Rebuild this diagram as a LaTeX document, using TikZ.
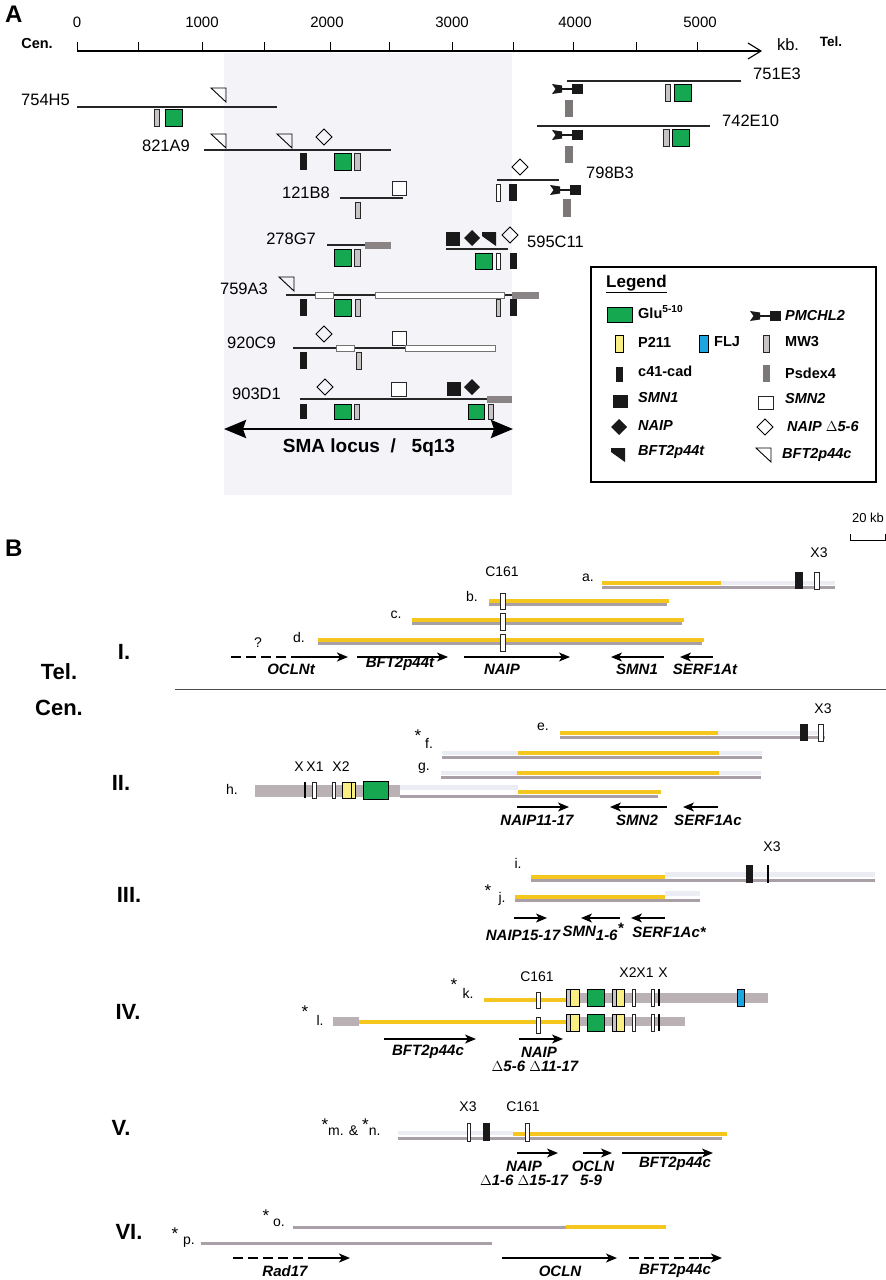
\documentclass[tikz,border=0pt]{standalone}
\usepackage{fontspec}
\setmainfont{Liberation Sans}
\usetikzlibrary{arrows.meta}
\definecolor{glu}{RGB}{22,168,80}
\definecolor{mwg}{RGB}{200,196,198}
\definecolor{psd}{RGB}{125,120,120}
\definecolor{shd}{RGB}{243,243,248}
\definecolor{gold}{RGB}{245,198,30}
\definecolor{gline}{RGB}{168,160,166}
\definecolor{gthick}{RGB}{185,177,180}
\definecolor{pyel}{RGB}{248,238,130}
\definecolor{flj}{RGB}{28,166,224}
\definecolor{faint}{RGB}{236,236,245}
\definecolor{extg}{RGB}{138,132,132}
\newcommand{\myTriO}[2]{\draw[line width=0.9pt, line join=miter] (#1,#2) -- ++(15,0) -- ++(0,14) -- cycle;}
\newcommand{\myTriF}[2]{\fill[black!90] (#1,#2) -- ++(14,0) -- ++(0,14) -- (#1,#2+4) -- cycle;}
\newcommand{\myDiaO}[2]{\draw[line width=0.9pt] (#1-8,#2) -- (#1,#2-8) -- (#1+8,#2) -- (#1,#2+8) -- cycle;}
\newcommand{\myDiaF}[2]{\fill[black!90] (#1-8,#2) -- (#1,#2-8) -- (#1+8,#2) -- (#1,#2+8) -- cycle;}
\newcommand{\myPM}[2]{%
  \fill[black!90] (#1,#2) -- (#1+10,#2+1.5) -- (#1+10,#2+8.5) -- (#1,#2+10) -- (#1+3.5,#2+5) -- cycle;
  \draw[line width=2pt,black!90] (#1+9,#2+5) -- (#1+21,#2+5);
  \fill[black!90] (#1+20,#2) rectangle (#1+31,#2+10);}
\newcommand{\myGY}[4]{%
  \fill[mwg] (#1,#2) rectangle (#1+4,#4);
  \fill[pyel] (#1+4,#2) rectangle (#3,#4);
  \draw[line width=0.7pt] (#1,#2) rectangle (#3,#4);
  \draw[line width=0.7pt] (#1+4,#2) -- (#1+4,#4);}
\begin{document}
\begin{tikzpicture}[x=1pt,y=-1pt,
 every node/.style={inner sep=0pt},
 clabel/.style={font=\fontsize{16.5}{18}\selectfont},
 tlabel/.style={font=\fontsize{15}{17}\selectfont},
 small/.style={font=\fontsize{14}{16}\selectfont},
 star/.style={font=\fontsize{17}{18}\selectfont},
 gname/.style={font=\bfseries\itshape\fontsize{15}{17}\selectfont},
 legt/.style={font=\bfseries\fontsize{14.5}{16}\selectfont, anchor=west},
 legti/.style={font=\bfseries\itshape\fontsize{14.5}{16}\selectfont, anchor=west},
 rnum/.style={font=\bfseries\fontsize{22}{24}\selectfont},
 clone/.style={line width=2.6pt, draw=black!85},
 gbox/.style={fill=glu, draw=black, line width=0.8pt},
 mwbox/.style={fill=mwg, draw=black!85, line width=0.7pt},
 wbox/.style={fill=white, draw=black!85, line width=0.8pt},
 wbar/.style={fill=white, draw=black!55, line width=0.7pt},
 kbox/.style={fill=black!90},
 pbox/.style={fill=psd},
 ebar/.style={fill=extg},
 yel/.style={draw=gold, line width=4pt},
 gry/.style={draw=gline, line width=3pt},
 fnt/.style={fill=faint},
 thickg/.style={fill=gthick},
 garr/.style={line width=1.2pt, -{Stealth[length=11pt,width=9pt,inset=3pt]}},
 dgen/.style={line width=2.4pt, dash pattern=on 10pt off 5pt},
]
\useasboundingbox (0,0) rectangle (886,1280);
\fill[white] (0,0) rectangle (886,1280);

%%%%%%%%%%%%%%%%%%%% PANEL A
\fill[shd] (224,53) rectangle (512,495);
\node[font=\bfseries\fontsize{24}{26}\selectfont, anchor=west] (pA) at (5,14) {A};
\node[tlabel] (t0) at (77,22) {0};
\node[tlabel] (t1) at (202,22) {1000};
\node[tlabel] (t2) at (327,22) {2000};
\node[tlabel] (t3) at (452,22) {3000};
\node[tlabel] (t4) at (575,22) {4000};
\node[tlabel] (t5) at (700,22) {5000};
\node[font=\bfseries\fontsize{14.5}{16}\selectfont] (cenA) at (37,44) {Cen.};
\node[font=\fontsize{16.5}{18}\selectfont] (kbA) at (788,45) {kb.};
\node[font=\bfseries\fontsize{13.5}{16}\selectfont] (telA) at (831,42) {Tel.};
\coordinate (ax0) at (77,51);
\coordinate (ax1) at (762,51);
\draw[line width=1.1pt, -{Straight Barb[length=13pt,width=16pt]}] (ax0) -- (ax1);
\foreach \t in {77,138,202,264,330,389,452,513,573,636,697} \draw[line width=0.9pt] (\t,42) -- (\t,51);

% 754H5
\node[clabel, anchor=east] (c754) at (70,100) {754H5};
\draw[clone] (77,107) -- (277,107);
\myTriO{211}{88}
\draw[mwbox] (154,109) rectangle (159,126);
\draw[gbox] (165,109) rectangle (182,126);
% 821A9
\node[clabel, anchor=east] (c821) at (190,146) {821A9};
\draw[clone] (204,150) -- (391,150);
\myTriO{211}{134}
\myTriO{277}{134}
\myDiaO{324}{137}
\fill[kbox] (300,153) rectangle (307,170);
\draw[gbox] (334,153) rectangle (351,170);
\draw[mwbox] (354,153) rectangle (360,170);
% 751E3
\node[clabel, anchor=west] (c751) at (753,74) {751E3};
\draw[clone] (567,81) -- (741,81);
\myPM{552}{84}
\fill[pbox] (565,100) rectangle (573,117);
\draw[mwbox] (665,84) rectangle (670,101);
\draw[gbox] (674,84) rectangle (691,101);
% 742E10
\node[clabel, anchor=west] (c742) at (722,121) {742E10};
\draw[clone] (537,126) -- (710,126);
\myPM{552}{130}
\fill[pbox] (565,146) rectangle (573,163);
\draw[mwbox] (663,129) rectangle (669,146);
\draw[gbox] (672,129) rectangle (689,146);
% 798B3
\node[clabel, anchor=west] (c798) at (586,173) {798B3};
\draw[clone] (497,180) -- (559,180);
\myDiaO{520}{167}
\draw[wbox] (496,184) rectangle (500,201);
\fill[kbox] (509,184) rectangle (517,201);
\myPM{550}{185}
\fill[pbox] (563,199) rectangle (571,217);
% 121B8
\node[clabel, anchor=east] (c121) at (330,193) {121B8};
\draw[clone] (340,198) -- (403,198);
\draw[wbox] (392,181) rectangle (406,195);
\draw[mwbox] (355,202) rectangle (360,218);
% 278G7
\node[clabel, anchor=east] (c278) at (316,239) {278G7};
\draw[clone] (327,245) -- (365,245);
\fill[ebar] (365,242) rectangle (391,249);
\draw[gbox] (334,249) rectangle (351,266);
\draw[mwbox] (354,249) rectangle (360,266);
% 595C11
\node[clabel, anchor=west] (c595) at (527,242) {595C11};
\draw[clone] (446,249) -- (508,249);
\fill[kbox] (446,232) rectangle (460,246);
\myDiaF{472}{238}
\myTriF{482}{232}
\myDiaO{510}{235}
\draw[gbox] (475,253) rectangle (492,269);
\draw[wbox] (496,253) rectangle (500,269);
\fill[kbox] (510,253) rectangle (517,269);
% 759A3
\node[clabel, anchor=east] (c759) at (268,289) {759A3};
\myTriO{279}{277}
\draw[clone] (286,295) -- (512,295);
\draw[wbar] (315,292.5) rectangle (333,298);
\draw[wbar] (375,292) rectangle (504,298.5);
\fill[ebar] (512,292) rectangle (539,298.5);
\fill[kbox] (300,299) rectangle (307,316);
\draw[gbox] (334,299) rectangle (351,316);
\draw[mwbox] (355,299) rectangle (360,316);
\draw[mwbox] (496,299) rectangle (500,316);
\fill[kbox] (510,299) rectangle (517,316);
% 920C9
\node[clabel, anchor=east] (c920) at (276,343) {920C9};
\myDiaO{324}{334}
\draw[wbox] (392,331) rectangle (406,345);
\draw[clone] (293,348) -- (405,348);
\draw[wbar] (336,345.5) rectangle (354,351);
\draw[wbar] (405,345) rectangle (495,351.5);
\fill[kbox] (300,352) rectangle (307,369);
\draw[mwbox] (356,352) rectangle (361,369);
% 903D1
\node[clabel, anchor=east] (c903) at (281,394) {903D1};
\myDiaO{325}{387}
\draw[wbox] (391,382) rectangle (406,396);
\fill[kbox] (447,382) rectangle (461,396);
\myDiaF{472}{387}
\draw[clone] (300,399) -- (487,399);
\fill[ebar] (487,396) rectangle (512,403);
\fill[kbox] (300,404) rectangle (307,419);
\draw[gbox] (334,404) rectangle (351,419);
\draw[mwbox] (354,404) rectangle (359,419);
\draw[gbox] (468,404) rectangle (484,419);
\draw[mwbox] (488,404) rectangle (493,419);
% SMA locus
\coordinate (sma0) at (224,429);
\coordinate (sma1) at (513,429);
\draw[line width=2.8pt, {Stealth[length=22pt,width=18pt,inset=3pt]}-{Stealth[length=22pt,width=18pt,inset=3pt]}] (sma0) -- (sma1);
\node[font=\bfseries\fontsize{19}{21}\selectfont] (smatxt) at (369,448) {SMA locus~~/~~~5q13};

% Legend
\draw[line width=1.6pt] (591,267) rectangle (876,482);
\node[font=\bfseries\fontsize{17}{19}\selectfont, anchor=west] (legT) at (606,284) {\underline{Legend}};
\draw[gbox] (607,307) rectangle (632,322);
\node[legt] (lglu) at (638,312) {Glu\textsuperscript{5-10}};
\myPM{750}{311}
\node[legti] (lpm) at (785,316) {PMCHL2};
\draw[fill=pyel, draw=black, line width=0.7pt] (615,335) rectangle (623,352);
\node[legt] (lp211) at (638,342) {P211};
\draw[fill=flj, draw=black, line width=0.7pt] (699,335) rectangle (708,352);
\node[legt] (lflj) at (714,342) {FLJ};
\draw[mwbox] (763,335) rectangle (769,352);
\node[legt] (lmw) at (785,342) {MW3};
\fill[kbox] (616,367) rectangle (623,382);
\node[legt] (lc41) at (638,371) {c41-cad};
\fill[pbox] (763,365) rectangle (770,382);
\node[legt] (lpsd) at (785,373) {Psdex4};
\fill[kbox] (613,395) rectangle (628,408);
\node[legti] (lsmn1) at (638,398) {SMN1};
\draw[wbox] (758,396) rectangle (773,409);
\node[legti] (lsmn2) at (785,399) {SMN2};
\myDiaF{619}{427}
\node[legti] (lnaip) at (638,426) {NAIP};
\myDiaO{765}{427}
\node[legti] (lnaipd) at (787,427) {NAIP $\Delta$5-6};
\myTriF{611}{448}
\node[legti] (lbftt) at (638,452) {BFT2p44t};
\myTriO{756}{448}
\node[legti] (lbftc) at (782,455) {BFT2p44c};

%%%%%%%%%%%%%%%%%%%% PANEL B
\node[font=\bfseries\fontsize{24}{26}\selectfont, anchor=west] (pB) at (5,548) {B};
\node[font=\fontsize{13}{15}\selectfont] (kb20) at (868,518) {20 kb};
\draw[line width=0.9pt] (850,534) -- (850,540) -- (885,540) -- (885,534);

\node[rnum] (r1) at (124,652) {I.};
\node[rnum] (telB) at (59,672) {Tel.};
\node[rnum] (cenB) at (59,708) {Cen.};
\draw[line width=0.8pt, black!70] (175,689) -- (886,689);

% Row I
\node[small] (x3a) at (819,553) {X3};
\node[small] (c161a) at (502,572) {C161};
\node[small] (la) at (588,578) {a.};
\fill[fnt] (721,581) rectangle (835,585);
\draw[gry] (602,587) -- (835,587);
\draw[yel] (602,583) -- (721,583);
\fill[kbox] (795,572) rectangle (803,589);
\draw[wbox] (814,572) rectangle (819,589);
\node[small] (lb) at (472,596) {b.};
\draw[gry] (489,604) -- (667,604);
\draw[yel] (489,601) -- (669,601);
\draw[wbox] (500,593) rectangle (505,609);
\node[small] (lc) at (396,615) {c.};
\draw[gry] (412,623) -- (682,623);
\draw[yel] (412,620) -- (684,620);
\draw[wbox] (500,613) rectangle (505,630);
\node[small] (ld) at (299,637) {d.};
\draw[gry] (318,643) -- (702,643);
\draw[yel] (318,640) -- (704,640);
\draw[wbox] (500,634) rectangle (505,651);
\node[small] (qm) at (258,643) {?};
\draw[dgen] (231,657) -- (318,657);
\draw[garr, line width=2.2pt] (300,657) -- (348,657);
\draw[garr] (357,657) -- (448,657);
\draw[garr] (464,657) -- (570,657);
\draw[garr] (664,657) -- (611,657);
\draw[garr] (713,657) -- (680,657);
\node[gname] (gOCLNt) at (291,669) {OCLNt};
\node[gname] (gBFTt) at (400,664) {BFT2p44t};
\node[gname] (gNAIP1) at (502,669) {NAIP};
\node[gname] (gSMN1) at (637,669) {SMN1};
\node[gname] (gSERFt) at (705,669) {SERF1At};

% Row II
\node[rnum] (r2) at (121,783) {II.};
\node[small] (x3e) at (823,709) {X3};
\node[small] (le) at (543,727) {e.};
\fill[fnt] (718,731) rectangle (825,735);
\draw[gry] (560,737) -- (825,737);
\draw[yel] (560,733) -- (718,733);
\fill[kbox] (800,724) rectangle (808,741);
\draw[wbox] (818,724) rectangle (823,741);
\node[star] (sf) at (418,736) {*};
\node[small] (lf) at (429,743) {f.};
\fill[fnt] (442,751) rectangle (518,755);
\fill[fnt] (719,751) rectangle (762,755);
\draw[gry] (442,757) -- (762,757);
\draw[yel] (518,753) -- (719,753);
\node[small] (lg) at (424,768) {g.};
\fill[fnt] (441,771) rectangle (517,775);
\fill[fnt] (719,771) rectangle (761,775);
\draw[gry] (441,777) -- (761,777);
\draw[yel] (517,773) -- (719,773);
\node[small] (lh) at (232,789) {h.};
\node[small] (xh0) at (299,767) {X};
\node[small] (xh1) at (315,767) {X1};
\node[small] (xh2) at (341,767) {X2};
\fill[thickg] (255,785) rectangle (400,797);
\fill[fnt] (400,785) rectangle (518,790);
\draw[gry] (400,796) -- (658,796);
\draw[yel] (518,792) -- (661,792);
\draw[line width=1.2pt] (305,782) -- (305,798);
\draw[wbox] (312,782) rectangle (316,798);
\draw[wbox] (332,782) rectangle (335,798);
\draw[fill=pyel, draw=black, line width=0.7pt] (342,782) rectangle (355,798);
\draw[line width=0.7pt] (351,782) -- (351,798);
\draw[gbox] (363,781) rectangle (388,799);
\draw[garr] (517,807) -- (569,807);
\draw[garr] (667,807) -- (610,807);
\draw[garr] (718,807) -- (683,807);
\node[gname] (gNAIP2) at (537,820) {NAIP11-17};
\node[gname] (gSMN2) at (637,820) {SMN2};
\node[gname] (gSERFc) at (708,820) {SERF1Ac};

% Row III
\node[rnum] (r3) at (129,895) {III.};
\node[small] (x3i) at (772,847) {X3};
\node[small] (li) at (518,863) {i.};
\fill[fnt] (665,872) rectangle (875,877);
\draw[gry] (531,880) -- (875,880);
\draw[yel] (531,877) -- (665,877);
\fill[kbox] (746,865) rectangle (753,883);
\draw[line width=1.6pt] (768,865) -- (768,883);
\node[star] (sj) at (488,891) {*};
\node[small] (lj) at (502,899) {j.};
\fill[fnt] (665,891) rectangle (700,896);
\draw[gry] (515,900) -- (700,900);
\draw[yel] (515,897) -- (665,897);
\draw[garr] (514,918) -- (547,918);
\draw[garr] (620,918) -- (581,918);
\draw[garr] (665,918) -- (631,918);
\node[gname] (gNAIP3) at (523,935) {NAIP15-17};
\node[gname] (gSMN3) at (593,932) {SMN\raisebox{-4pt}{1-6}\raisebox{3pt}{*}};
\node[gname] (gSERF3) at (669,932) {SERF1Ac*};

% Row IV
\node[rnum] (r4) at (128,1012) {IV.};
\node[small] (c161k) at (537,977) {C161};
\node[small] (xk2) at (628,973) {X2};
\node[small] (xk1) at (645,973) {X1};
\node[small] (xk0) at (663,973) {X};
\node[star] (sk) at (454,985) {*};
\node[small] (lk) at (468,993) {k.};
\draw[yel] (484,1000) -- (567,1000);
\fill[thickg] (567,993) rectangle (768,1003);
\draw[wbox] (536,992) rectangle (540,1008);
\myGY{566}{989}{579}{1006}
\draw[gbox] (587,989) rectangle (604,1006);
\myGY{612}{989}{624}{1006}
\draw[wbox] (632,989) rectangle (635,1006);
\draw[wbox] (651,989) rectangle (654,1006);
\draw[line width=1.2pt] (659,989) -- (659,1006);
\draw[fill=flj, draw=black, line width=0.7pt] (737,989) rectangle (744,1006);
\node[star] (sl) at (305,1012) {*};
\node[small] (ll) at (320,1020) {l.};
\fill[thickg] (333,1017) rectangle (359,1026);
\draw[yel] (359,1022) -- (567,1022);
\fill[thickg] (567,1017) rectangle (685,1026);
\draw[wbox] (536,1017) rectangle (540,1033);
\myGY{566}{1014}{579}{1031}
\draw[gbox] (587,1014) rectangle (604,1031);
\myGY{612}{1014}{624}{1031}
\draw[wbox] (632,1014) rectangle (635,1031);
\draw[wbox] (651,1014) rectangle (654,1031);
\draw[line width=1.2pt] (659,1014) -- (659,1031);
\draw[garr] (384,1039) -- (476,1039);
\draw[garr] (519,1039) -- (563,1039);
\node[gname] (gBFT4) at (428,1052) {BFT2p44c};
\node[gname] (gNAIP4) at (539,1052) {NAIP};
\node[gname] (gNAIP4b) at (535,1066) {$\Delta$5-6 $\Delta$11-17};

% Row V
\node[rnum] (r5) at (121,1128) {V.};
\node[small] (x3m) at (468,1107) {X3};
\node[small] (c161m) at (523,1107) {C161};
\node[small] (lmn) at (351,1127) {\raisebox{5pt}{\fontsize{17}{18}\selectfont *}m. \& \raisebox{5pt}{\fontsize{17}{18}\selectfont *}n.};
\fill[fnt] (398,1131) rectangle (513,1135);
\draw[gry] (398,1138) -- (722,1138);
\draw[yel] (513,1134) -- (727,1134);
\draw[wbox] (467,1123) rectangle (470,1141);
\fill[kbox] (483,1123) rectangle (490,1141);
\draw[wbox] (525,1123) rectangle (529,1141);
\draw[garr] (517,1153) -- (558,1153);
\draw[garr] (583,1153) -- (612,1153);
\draw[garr] (622,1153) -- (713,1153);
\node[gname] (gNAIP5) at (524,1166) {NAIP};
\node[gname] (gNAIP5b) at (524,1180) {$\Delta$1-6 $\Delta$15-17};
\node[gname] (gOCLN5) at (593,1166) {OCLN};
\node[gname] (gOCLN5b) at (591,1180) {5-9};
\node[gname] (gBFT5) at (675,1164) {BFT2p44c};

% Row VI
\node[rnum] (r6) at (129,1232) {VI.};
\node[star] (so) at (266,1216) {*};
\node[small] (lo) at (279,1223) {o.};
\draw[gry] (293,1227) -- (566,1227);
\draw[yel] (566,1227) -- (666,1227);
\node[star] (sp) at (175,1234) {*};
\node[small] (lp) at (189,1242) {p.};
\draw[gry] (201,1243) -- (492,1243);
\draw[dgen] (233,1258) -- (325,1258);
\draw[garr, line width=2.2pt] (318,1258) -- (350,1258);
\draw[garr] (502,1258) -- (617,1258);
\draw[dgen] (629,1258) -- (705,1258);
\draw[garr, line width=2.2pt] (700,1258) -- (722,1258);
\node[gname] (gRad) at (285,1271) {Rad17};
\node[gname] (gOCLN6) at (560,1271) {OCLN};
\node[gname] (gBFT6) at (675,1271) {BFT2p44c};
\end{tikzpicture}
\end{document}
